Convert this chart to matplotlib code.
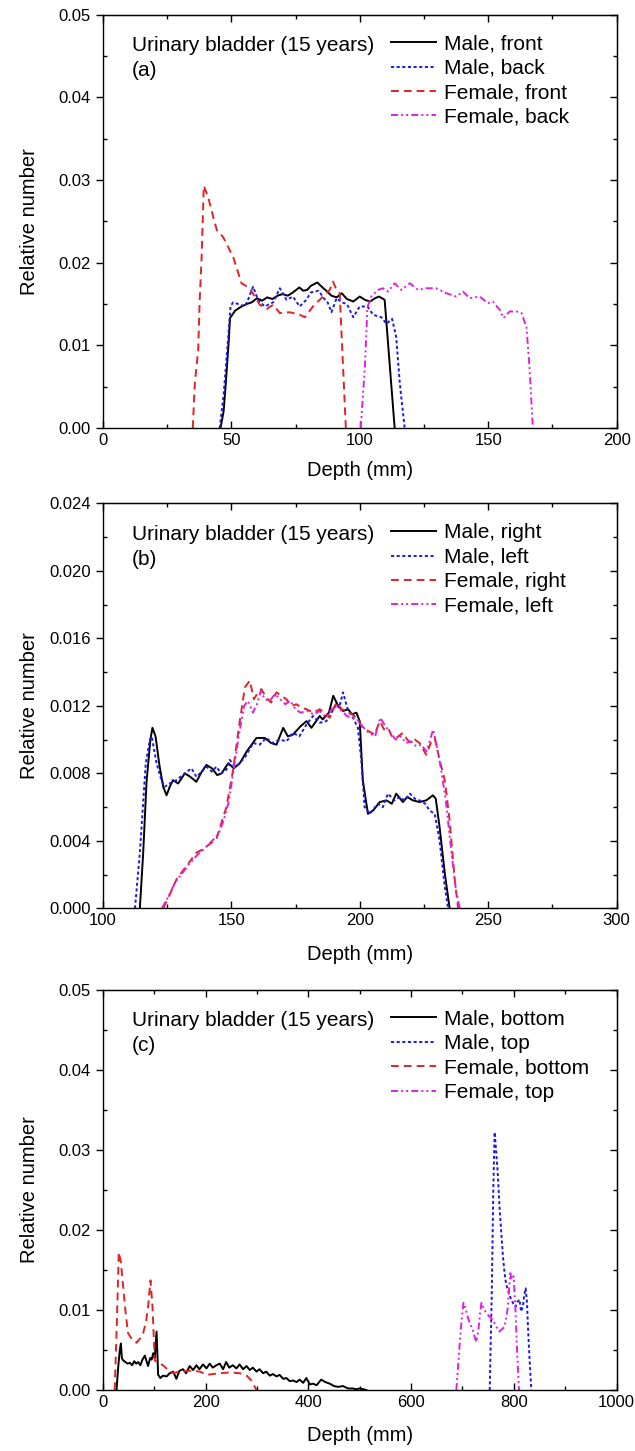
import matplotlib
matplotlib.use("Agg")
import matplotlib.pyplot as plt
from matplotlib.ticker import MultipleLocator, FormatStrFormatter

plt.rcParams['font.family'] = ['Liberation Sans', 'DejaVu Sans']

# ---- (a) front / back ----
a_m_front_x = [45.8, 47, 48, 49, 49.5, 51.5, 54, 56, 58, 60, 62, 64, 66, 68, 70, 72, 74, 76.5, 78, 79.5,
               81, 83.5, 85.5, 87, 89, 91, 93, 95, 97.5, 100, 102, 104, 106, 107.5, 109.7, 113.6]
a_m_front_y = [0, 0.002, 0.006, 0.0105, 0.0133, 0.0142, 0.0147, 0.0150, 0.0152, 0.0157,
               0.0154, 0.0158, 0.0156, 0.0160, 0.0162, 0.0160, 0.0164, 0.0170, 0.0166, 0.0167,
               0.0172, 0.0176, 0.0170, 0.0166, 0.0160, 0.0158, 0.0163, 0.0156, 0.0153, 0.0159,
               0.0155, 0.0153, 0.0157, 0.0159, 0.0155, 0]
a_m_back_x = [45.5, 47, 48.8, 49.7, 50.7, 52.6, 55.3, 56.5, 58.5, 60.4, 63, 66.3, 68.9, 71.5, 74, 76.6,
              79.2, 81, 84, 86, 87.5, 89, 91, 93, 95, 97.5, 100, 103, 105.2, 108.4, 110.4, 112.6,
              114.2, 115.6, 117.5]
a_m_back_y = [0, 0.004, 0.011, 0.0147, 0.0152, 0.0150, 0.0147, 0.0155, 0.0171, 0.0155,
              0.0147, 0.0152, 0.0169, 0.0155, 0.0159, 0.0147, 0.0155, 0.0164, 0.0166, 0.0157,
              0.0152, 0.0140, 0.0157, 0.0152, 0.0150, 0.0134, 0.0147, 0.0147, 0.0137, 0.0134,
              0.0126, 0.0132, 0.0110, 0.0054, 0]
a_f_front_x = [35, 35.8, 37.1, 37.7, 38.4, 39.3, 41, 43, 44.4, 46.8, 50.7, 54, 57.2, 61.1, 63.8, 66.3,
               68.9, 72.8, 76.6, 78.6, 81.8, 85.7, 88.3, 89.6, 91, 92.2, 92.8, 93.8, 94.6]
a_f_front_y = [0, 0.0054, 0.0094, 0.0155, 0.0203, 0.0293, 0.0279, 0.0255, 0.0239, 0.0231,
               0.0207, 0.0175, 0.0169, 0.0149, 0.0144, 0.0149, 0.0139, 0.0140, 0.0137, 0.0134,
               0.0147, 0.0159, 0.0167, 0.0177, 0.0167, 0.0163, 0.0122, 0.0054, 0]
a_f_back_x = [100.4, 102, 103, 104.5, 107.1, 109, 111, 113.6, 116.2, 119.5, 122.7, 125.9, 129.8, 133.7,
              137.6, 140.2, 142.8, 146.7, 149.9, 151.8, 154.5, 156, 158.4, 161, 163, 164.9, 166.1, 167.4]
a_f_back_y = [0, 0.0074, 0.0146, 0.0159, 0.0167, 0.0169, 0.0165, 0.0175, 0.0167, 0.0175,
              0.0167, 0.0169, 0.0169, 0.0163, 0.0159, 0.0165, 0.0157, 0.0159, 0.0151, 0.0153,
              0.0143, 0.0133, 0.0141, 0.0141, 0.0139, 0.0122, 0.0074, 0]

# ---- (b) right / left ----
b_m_right_x = [114.4, 115.7, 117, 118.5, 119.3, 120.5, 122, 123.5, 124.8, 126, 127.3, 129.3, 131.9, 134,
               136.4, 138.5, 140.3, 142.5, 144.5, 146.2, 148.8, 151, 153.3, 156, 159.8, 163, 165.5,
               167.6, 170.2, 172, 174, 177, 179.3, 181.2, 184.4, 185.6, 188, 189.7, 191.6, 193.5,
               195.5, 197, 198.7, 200, 201.2, 203.2, 205.2, 207.8, 210.4, 212.5, 214.2, 216.8, 218.5,
               220.7, 223.3, 225.9, 228.5, 229.6, 231.1, 233.1, 235]
b_m_right_y = [0, 0.0033, 0.0075, 0.0100, 0.0107, 0.0102, 0.0085, 0.0072, 0.0067, 0.0072,
               0.0076, 0.0074, 0.0080, 0.0078, 0.0075, 0.0081, 0.0085, 0.0083, 0.0079, 0.0080,
               0.0086, 0.0083, 0.0086, 0.0093, 0.0101, 0.0101, 0.0098, 0.0097, 0.0107, 0.0102,
               0.0103, 0.0108, 0.0111, 0.0107, 0.0114, 0.0112, 0.0116, 0.0126, 0.0120, 0.0117,
               0.0118, 0.0115, 0.0116, 0.0111, 0.0076, 0.0056, 0.0058, 0.0063, 0.0064, 0.0062,
               0.0068, 0.0063, 0.0066, 0.0064, 0.0063, 0.0064, 0.0067, 0.0065, 0.0048, 0.0021, 0]
b_m_left_x = [112.5, 114.4, 116.7, 118.3, 119, 120.9, 122.8, 124, 126, 128.6, 131.9, 134.5, 136.4, 138.5,
              140.3, 142.5, 144.2, 146, 148, 149.4, 151.5, 153.3, 155.5, 158.5, 161, 163.6, 166, 168.9,
              171.5, 174, 176.5, 179.3, 181.8, 184.5, 187, 189, 190.9, 192, 193.5, 195.5, 197.4, 199.3,
              200.6, 201.9, 203.9, 207.1, 209, 211, 213.5, 215.6, 217.5, 219.5, 221.5, 223.3, 225.5,
              227.2, 229.2, 231.1, 233.1, 234.4]
b_m_left_y = [0, 0.0033, 0.0086, 0.0100, 0.0102, 0.0086, 0.0076, 0.0072, 0.0074, 0.0076,
              0.0080, 0.0083, 0.0078, 0.0081, 0.0084, 0.0081, 0.0084, 0.0080, 0.0082, 0.0088,
              0.0084, 0.0086, 0.0090, 0.0098, 0.0097, 0.0101, 0.0098, 0.0100, 0.0099, 0.0104,
              0.0102, 0.0109, 0.0114, 0.0110, 0.0111, 0.0116, 0.0121, 0.0119, 0.0128, 0.0117,
              0.0113, 0.0107, 0.0088, 0.0060, 0.0056, 0.0062, 0.0060, 0.0068, 0.0064, 0.0066,
              0.0064, 0.0068, 0.0065, 0.0064, 0.0062, 0.0058, 0.0056, 0.0040, 0.0013, 0]
b_f_right_x = [123.5, 126, 128.6, 131, 133, 136.4, 139, 141.5, 144.2, 146, 148.1, 150.7, 153.3, 155.3,
               157.2, 158.8, 160, 161.7, 163.6, 165.5, 167.6, 169.5, 171.4, 173.5, 175.3, 177.5, 179.3,
               182, 184.4, 186.5, 188.3, 190.9, 193, 195, 197, 198.7, 201.2, 203.5, 205.8, 207.8,
               209.5, 211, 212.5, 214.2, 216.8, 218.5, 220, 221.5, 223.3, 225.9, 227.9, 229.2, 231.1,
               233.1, 235, 237, 238.3]
b_f_right_y = [0, 0.0008, 0.0017, 0.0022, 0.0026, 0.0033, 0.0035, 0.0038, 0.0041, 0.0050,
               0.0060, 0.0082, 0.0111, 0.0131, 0.0135, 0.0124, 0.0127, 0.0130, 0.0125, 0.0122,
               0.0128, 0.0126, 0.0124, 0.0120, 0.0121, 0.0119, 0.0118, 0.0116, 0.0118, 0.0116,
               0.0113, 0.0122, 0.0118, 0.0117, 0.0115, 0.0113, 0.0107, 0.0105, 0.0103, 0.0111,
               0.0106, 0.0107, 0.0102, 0.0101, 0.0104, 0.0100, 0.0098, 0.0100, 0.0098, 0.0091,
               0.0099, 0.0101, 0.0088, 0.0076, 0.0052, 0.0017, 0]
b_f_left_x = [123, 125.5, 128, 131, 134, 137, 140, 142.5, 145, 147, 149, 151, 153, 155, 156.5, 158.4,
              160, 161.5, 163, 165, 167, 169, 171, 173, 175, 177, 179.5, 182, 184.5, 187, 189, 191,
              193, 195, 197, 199, 201, 203.5, 206, 208, 210, 212, 214, 216, 218, 220, 222, 224, 226,
              228.6, 230, 231.5, 233.5, 235.5, 237.5, 239]
b_f_left_y = [0, 0.0007, 0.0015, 0.0021, 0.0027, 0.0032, 0.0036, 0.0040, 0.0044, 0.0052,
              0.0063, 0.0083, 0.0103, 0.0120, 0.0123, 0.0116, 0.0121, 0.0129, 0.0124, 0.0123,
              0.0127, 0.0124, 0.0121, 0.0123, 0.0118, 0.0116, 0.0117, 0.0115, 0.0117, 0.0113,
              0.0118, 0.0120, 0.0117, 0.0114, 0.0113, 0.0112, 0.0108, 0.0104, 0.0102, 0.0113,
              0.0108, 0.0104, 0.0100, 0.0102, 0.0098, 0.0099, 0.0096, 0.0097, 0.0093, 0.0106,
              0.0096, 0.0084, 0.0064, 0.0036, 0.0010, 0]

# ---- (c) bottom / top ----
c_m_bottom_x = [26.6, 30, 33, 35, 37, 39.5, 44, 48, 52.5, 57,
                61, 65, 68.7, 73, 77, 81.7, 85, 88, 92, 95,
                98, 101, 104.5, 107.6, 112, 117, 124, 130, 137, 143,
                149, 156, 162, 169, 175.7, 182, 188, 195, 201.7, 208,
                214, 221, 227.6, 234, 240, 246, 253, 260, 266, 273,
                279.6, 286, 292, 299, 305, 312, 318, 325, 331, 338,
                344, 351, 357, 364, 370, 377, 383, 390, 396, 403,
                409, 416, 425, 433, 441.6, 450, 458, 467.5, 477, 487,
                493, 500, 507, 513]
c_m_bottom_y = [0, 0.0030, 0.0050, 0.0058, 0.0040, 0.0037, 0.0035, 0.0033, 0.0034, 0.0031,
                0.0036, 0.0033, 0.0035, 0.0031, 0.0038, 0.0043, 0.0036, 0.0030, 0.0040, 0.0038,
                0.0046, 0.0040, 0.0073, 0.0019, 0.0015, 0.0018, 0.0017, 0.0021, 0.0023, 0.0014,
                0.0024, 0.0026, 0.0021, 0.0030, 0.0025, 0.0031, 0.0026, 0.0032, 0.0027, 0.0033,
                0.0028, 0.0031, 0.0033, 0.0026, 0.0035, 0.0028, 0.0031, 0.0027, 0.0032, 0.0026,
                0.0030, 0.0025, 0.0028, 0.0023, 0.0026, 0.0021, 0.0023, 0.0018, 0.0020, 0.0017,
                0.0019, 0.0014, 0.0015, 0.0011, 0.0012, 0.0010, 0.0013, 0.0009, 0.0015, 0.0007,
                0.0008, 0.0006, 0.0013, 0.0010, 0.0008, 0.0005, 0.0004, 0.0005, 0.0002, 0.0002,
                0.0001, 0.0002, 0.0001, 0]
c_m_top_x = [753, 757, 760, 762.6, 766, 769, 772, 775.6, 779, 782, 785, 788.5, 792, 795, 799, 803.5,
             807, 811, 814, 817.7, 820, 823, 825.5, 827.5, 830.7, 834]
c_m_top_y = [0, 0.012, 0.025, 0.0322, 0.0295, 0.0267, 0.0230, 0.0196, 0.0165, 0.0146,
             0.0132, 0.0125, 0.0118, 0.0113, 0.0108, 0.0104, 0.0110, 0.0113, 0.0098, 0.0104,
             0.0118, 0.0127, 0.0110, 0.0079, 0.0037, 0]
c_f_bottom_x = [23, 27, 31, 35, 39.5, 44, 49, 57, 65.5, 72, 78.4, 84, 88, 92.7, 96.6, 101, 108, 117,
                127, 137, 150, 163, 176, 189, 202, 215, 228, 247, 266.5, 280, 289, 299]
c_f_bottom_y = [0, 0.008, 0.0172, 0.0160, 0.0129, 0.0098, 0.0071, 0.0063, 0.0059, 0.0064,
                0.0071, 0.0085, 0.0104, 0.0137, 0.0104, 0.0037, 0.0034, 0.0031, 0.0025, 0.0021,
                0.0023, 0.0024, 0.0024, 0.0023, 0.0019, 0.0020, 0.0021, 0.0022, 0.0021, 0.0018,
                0.0012, 0]
c_f_top_x = [688, 691, 694.6, 698, 702, 706, 710, 714, 719, 723, 727, 731, 734, 737, 741, 746.5, 752,
             759, 765, 772, 777, 782, 785, 788.5, 791, 793, 796, 799.6, 801.5, 803.5, 805, 806.6, 810]
c_f_top_y = [0, 0.0025, 0.0058, 0.0085, 0.0109, 0.0102, 0.0092, 0.0084, 0.0077, 0.0068,
             0.0060, 0.0075, 0.0095, 0.0109, 0.0102, 0.0096, 0.0092, 0.0088, 0.0080, 0.0073,
             0.0076, 0.0079, 0.0090, 0.0104, 0.0128, 0.0146, 0.0138, 0.0142, 0.0120, 0.0096,
             0.0070, 0.0046, 0]

# line styles: male solid / dotted, female dashed / dash-dot-dot
styles = [
    dict(color='black', ls='-'),
    dict(color='#1a1ae6', ls=(0, (1.6, 1.3))),
    dict(color='#e02424', ls=(0, (4.0, 2.6))),
    dict(color='#e020e0', ls=(0, (3.6, 1.6, 1.0, 1.6, 1.0, 1.6))),
]

panels = [
    dict(pos=[0.162, 0.705, 0.809, 0.285], tag='(a)', xlab_off=42,
         series=[(a_m_front_x, a_m_front_y, 'Male, front'), (a_m_back_x, a_m_back_y, 'Male, back'),
                 (a_f_front_x, a_f_front_y, 'Female, front'), (a_f_back_x, a_f_back_y, 'Female, back')],
         xlim=(0, 200), xmaj=50, xmin=25, ylim=(0, 0.05), ymaj=0.01, ymin=0.005, yfmt='%.2f'),
    dict(pos=[0.162, 0.374, 0.809, 0.279], tag='(b)', xlab_off=46,
         series=[(b_m_right_x, b_m_right_y, 'Male, right'), (b_m_left_x, b_m_left_y, 'Male, left'),
                 (b_f_right_x, b_f_right_y, 'Female, right'), (b_f_left_x, b_f_left_y, 'Female, left')],
         xlim=(100, 300), xmaj=50, xmin=25, ylim=(0, 0.024), ymaj=0.004, ymin=0.002, yfmt='%.3f'),
    dict(pos=[0.162, 0.042, 0.809, 0.276], tag='(c)', xlab_off=45,
         series=[(c_m_bottom_x, c_m_bottom_y, 'Male, bottom'), (c_m_top_x, c_m_top_y, 'Male, top'),
                 (c_f_bottom_x, c_f_bottom_y, 'Female, bottom'), (c_f_top_x, c_f_top_y, 'Female, top')],
         xlim=(0, 1000), xmaj=200, xmin=100, ylim=(0, 0.05), ymaj=0.01, ymin=0.005, yfmt='%.2f'),
]

W, H = 635, 1451
fig = plt.figure(figsize=(W / 100, H / 100), dpi=100)

for p in panels:
    ax = fig.add_axes(p['pos'])
    h_px = p['pos'][3] * H
    handles = []
    for (x, y, lab), st in zip(p['series'], styles):
        h, = ax.plot(x, y, color=st['color'], linestyle=st['ls'], lw=1.4, label=lab)
        handles.append(h)

    ax.set_xlim(*p['xlim'])
    ax.set_ylim(*p['ylim'])
    ax.xaxis.set_major_locator(MultipleLocator(p['xmaj']))
    ax.xaxis.set_minor_locator(MultipleLocator(p['xmin']))
    ax.yaxis.set_major_locator(MultipleLocator(p['ymaj']))
    ax.yaxis.set_minor_locator(MultipleLocator(p['ymin']))
    ax.yaxis.set_major_formatter(FormatStrFormatter(p['yfmt']))

    for s in ax.spines.values():
        s.set_linewidth(1.0)
    ax.tick_params(axis='x', which='both', direction='in', labelsize=12, width=1.0)
    ax.tick_params(axis='y', which='major', direction='out', labelsize=12, width=1.0)
    ax.tick_params(axis='y', which='minor', direction='in', width=1.0)
    ax.tick_params(which='major', length=5)
    ax.tick_params(which='minor', length=3)

    # inward ticks on the opposite spines, no labels
    top = ax.secondary_xaxis('top')
    top.xaxis.set_major_locator(MultipleLocator(p['xmaj']))
    top.xaxis.set_minor_locator(MultipleLocator(p['xmin']))
    top.tick_params(which='both', direction='in', labeltop=False, width=1.0)
    top.tick_params(which='major', length=5)
    top.tick_params(which='minor', length=3)
    right = ax.secondary_yaxis('right')
    right.yaxis.set_major_locator(MultipleLocator(p['ymaj']))
    right.yaxis.set_minor_locator(MultipleLocator(p['ymin']))
    right.tick_params(which='both', direction='in', labelright=False, width=1.0)
    right.tick_params(which='major', length=5)
    right.tick_params(which='minor', length=3)

    ax.set_xlabel('Depth (mm)', fontsize=14.5, va='center')
    ax.set_ylabel('Relative number', fontsize=14.5, va='center')
    ax.yaxis.set_label_coords(-0.142, 0.5)
    ax.xaxis.set_label_coords(0.5, -p['xlab_off'] / h_px)

    # title and panel tag, two rows aligned with the legend rows
    ax.text(0.056, 1 - 31 / h_px, 'Urinary bladder (15 years)', transform=ax.transAxes,
            fontsize=15, va='center', ha='left')
    ax.text(0.056, 1 - 56 / h_px, p['tag'], transform=ax.transAxes,
            fontsize=15, va='center', ha='left')
    ax.legend(handles=handles, loc='upper left', bbox_to_anchor=(0.560, 1 - 20 / h_px), frameon=False,
              fontsize=15, handlelength=2.2, handletextpad=0.38, labelspacing=0.26,
              borderaxespad=0, borderpad=0)

fig.savefig('out.png', dpi=100)
